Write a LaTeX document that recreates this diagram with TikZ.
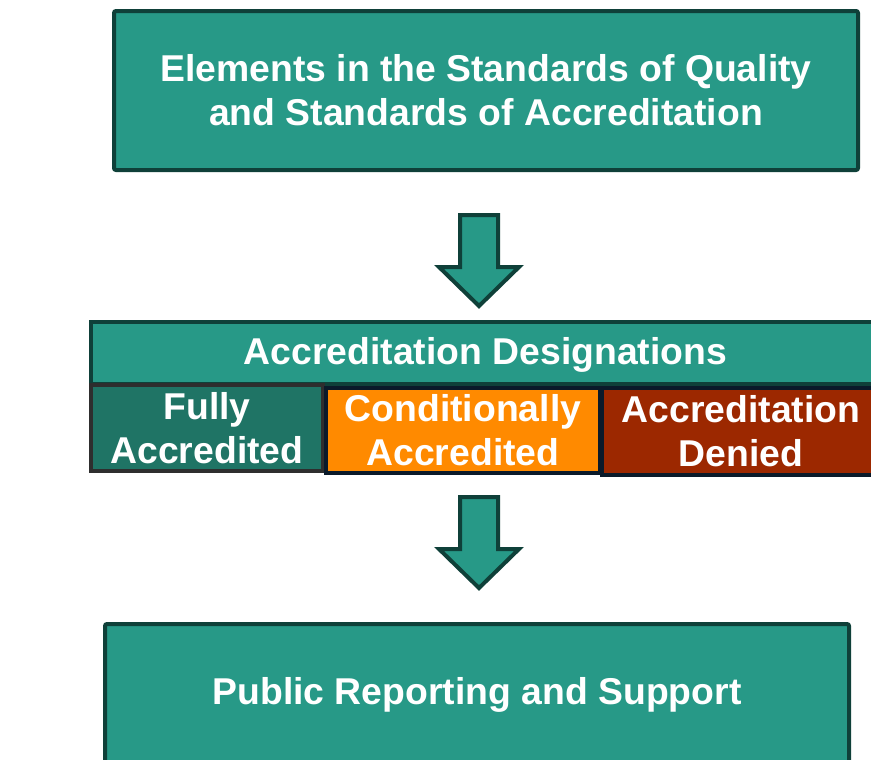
\documentclass[tikz,border=0pt]{standalone}
\usepackage{fontspec}
\setmainfont{Liberation Sans}

\definecolor{tealfill}{RGB}{39,153,135}
\definecolor{tealline}{RGB}{15,64,57}
\definecolor{fullyfill}{RGB}{31,116,101}
\definecolor{fullyline}{RGB}{46,46,46}
\definecolor{condfill}{RGB}{255,138,0}
\definecolor{deniedfill}{RGB}{156,40,0}
\definecolor{navyline}{RGB}{10,26,42}

\tikzset{every picture/.style={line width=0.75pt}}
\tikzset{
  stagebox/.style={draw=tealline, fill=tealfill, line width=3pt, rounded corners=1.5pt,
    inner sep=0pt, align=center, text=white, font=\fontsize{28}{33}\selectfont\bfseries},
  gradebox/.style={stagebox, rounded corners=0pt},
  % pics do not take the yscale=-1, so the arrow points to negative y
  downarrow/.pic={
    \draw [draw=tealline, fill=tealfill, line width=3pt]
      (-19,0) -- (19,0) -- (19,-52) -- (40,-52) -- (0,-91) -- (-40,-52) -- (-19,-52) -- cycle ;
  }
}

\begin{document}
\begin{tikzpicture}[x=0.75pt,y=0.75pt,yscale=-1,xscale=1]
\path[use as bounding box] (0,0) rectangle (871,760);
\clip (0,0) rectangle (871,760);

%Top box
\node [stagebox, minimum width=558pt, minimum height=119.25pt] (elements) at (486,90.5)
  {Elements in the Standards of Quality\\and Standards of Accreditation};

%Arrow down
\pic (arrowA) at (479,215) {downarrow};

%Designations header and its three grades
\node [gradebox, minimum width=591.75pt, minimum height=46.5pt, text depth=3pt] (designations) at (485.5,353)
  {Accreditation Designations};
\node [gradebox, draw=fullyline, fill=fullyfill, minimum width=174pt, minimum height=64.5pt] (fully) at (207,428)
  {Fully\\Accredited};
\node [gradebox, draw=navyline, fill=condfill, minimum width=205.5pt, minimum height=63.75pt] (conditional) at (463,430.5)
  {Conditionally\\Accredited};
\node [gradebox, draw=navyline, fill=deniedfill, minimum width=208.5pt, minimum height=65.25pt] (denied) at (741,431.5)
  {Accreditation\\Denied};

%Arrow down
\pic (arrowB) at (479,497) {downarrow};

%Bottom box
\node [stagebox, minimum width=558pt, minimum height=106.5pt] (reporting) at (477,695)
  {Public Reporting and Support};

\end{tikzpicture}
\end{document}
